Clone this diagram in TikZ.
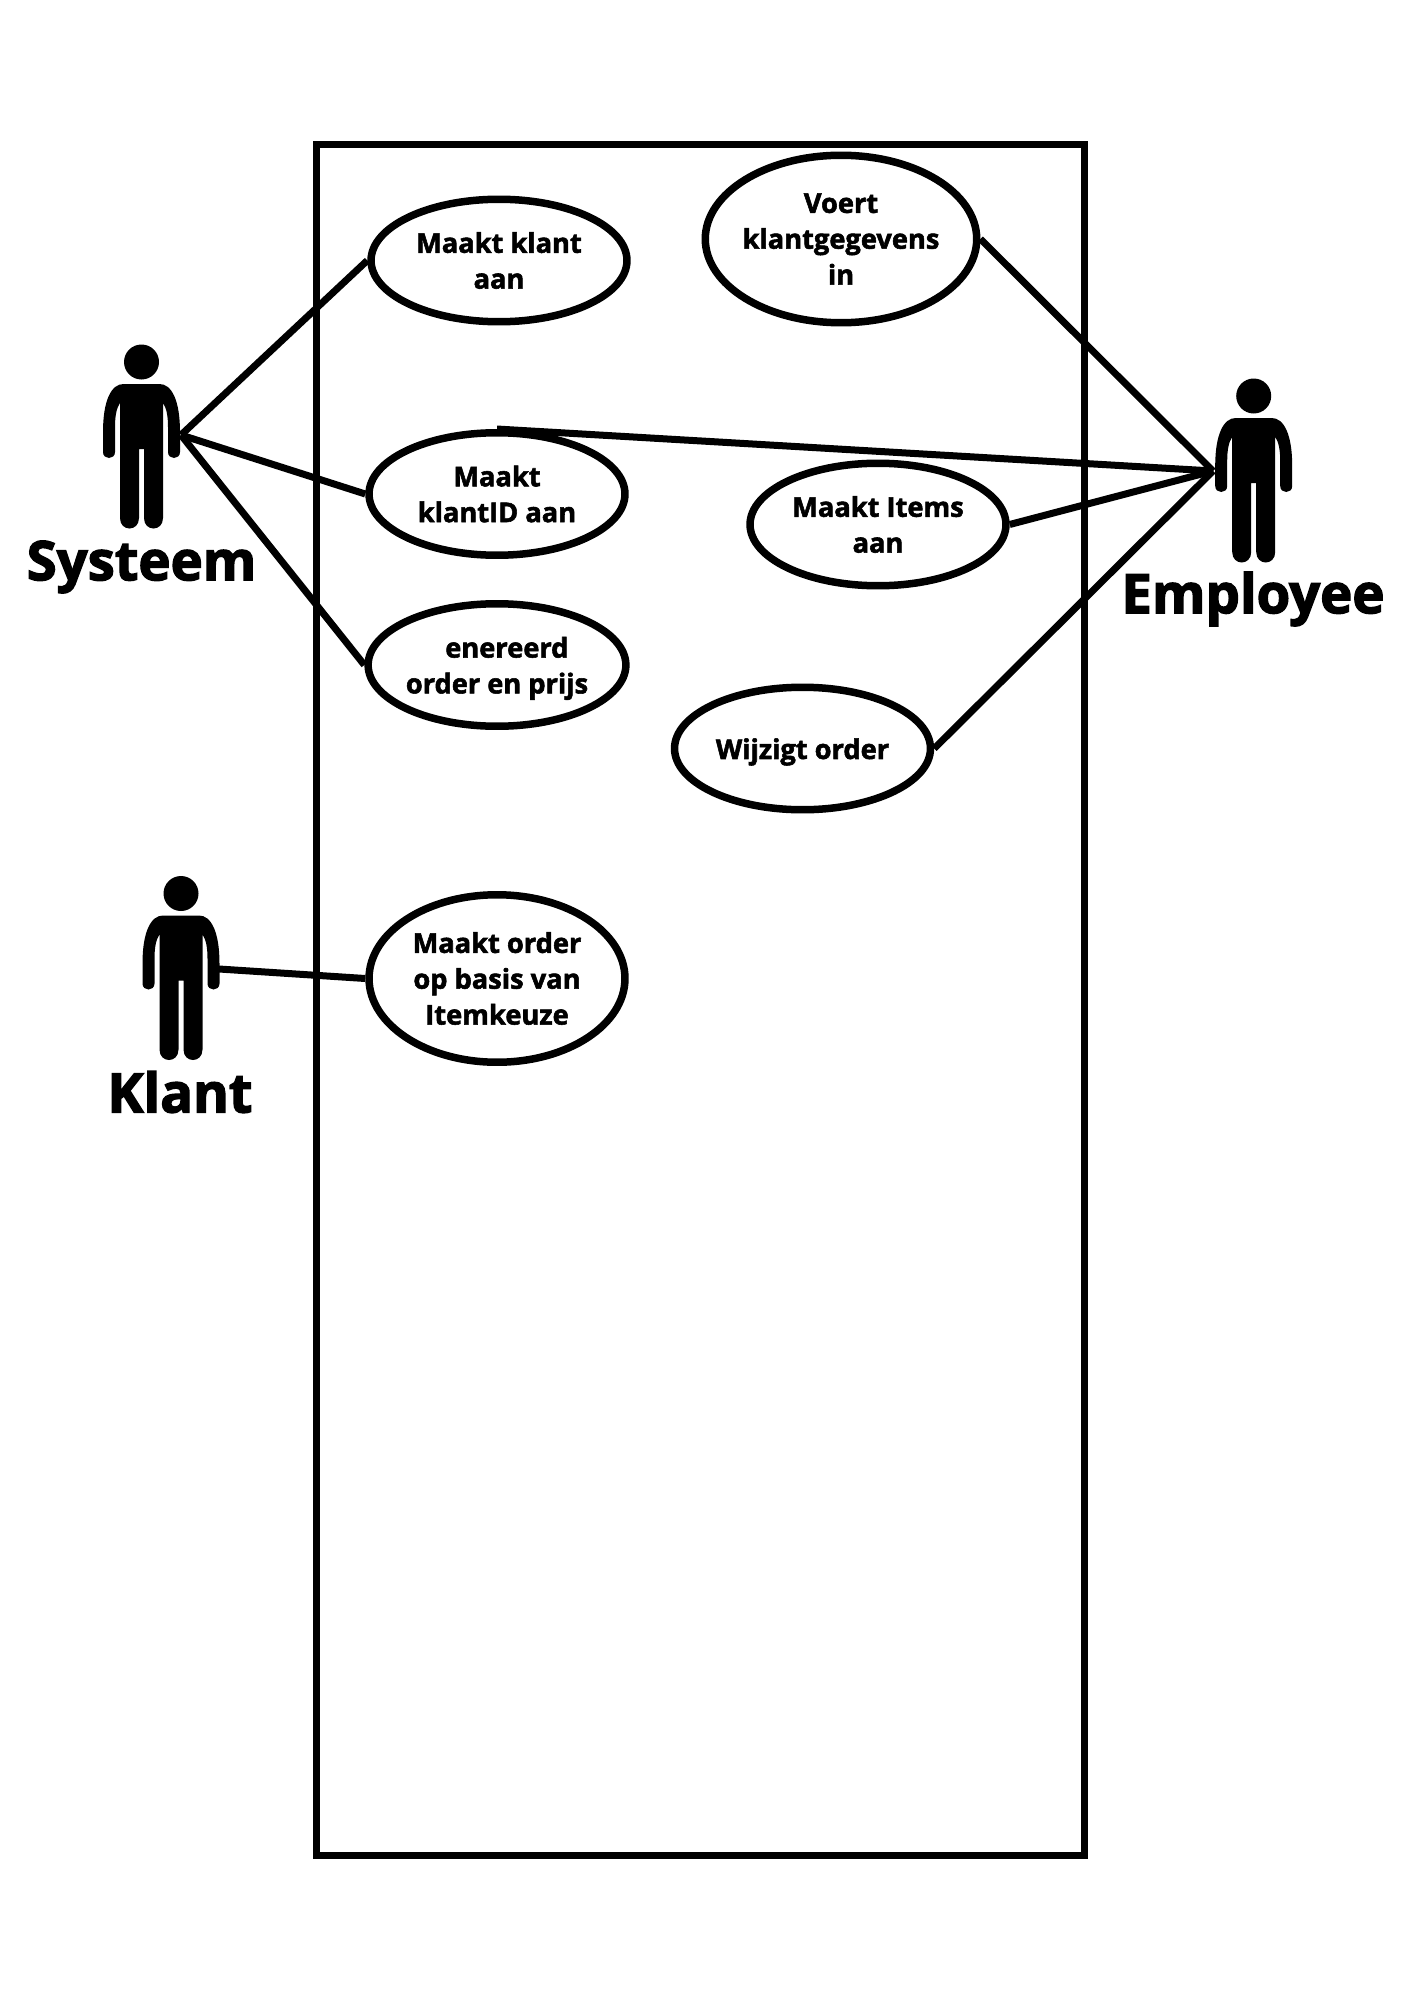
\documentclass[tikz,border=0pt]{standalone}
\usepackage{fontspec}
\setmainfont{Open Sans}[BoldFeatures={FakeBold=2}]
\newfontfamily\actorfont{Open Sans}[BoldFeatures={FakeBold=2.5}]
\usetikzlibrary{shapes.geometric}

\tikzset{
    usecase/.style={draw, ellipse, line width=7.5*0.02cm, fill=white, inner sep=0pt,
        minimum width=5.12cm, minimum height=2.45cm, align=center,
        font=\fontsize{15.5pt}{20.4pt}\selectfont\bfseries},
    usecasetall/.style={usecase, minimum height=3.35cm},
    actorname/.style={inner sep=0pt, font=\fontsize{31pt}{36pt}\actorfont\selectfont\bfseries},
    assoc/.style={line width=7*0.02cm},
    pics/actorfig/.style={code={
        \fill (0,0) circle (17.5);
        \fill (0,22) -- (18,22) .. controls (30,22) and (38.5,38) .. (38.5,70) -- (38.5,90)
            .. controls (38.5,98) and (26.5,98) .. (26.5,90) -- (26.5,65)
            .. controls (26.5,54) and (25,46) .. (21.5,41) -- (21.5,156)
            .. controls (21.5,170) and (2.5,170) .. (2.5,156) -- (2.5,87) -- (-2.5,87) -- (-2.5,156)
            .. controls (-2.5,170) and (-21.5,170) .. (-21.5,156) -- (-21.5,41)
            .. controls (-25,46) and (-26.5,54) .. (-26.5,65) -- (-26.5,90)
            .. controls (-26.5,98) and (-38.5,98) .. (-38.5,90) -- (-38.5,70)
            .. controls (-38.5,38) and (-30,22) .. (-18,22) -- cycle;
    }}
}

\begin{document}
\begin{tikzpicture}[x=0.02cm,y=-0.02cm]
    \useasboundingbox (0,0) rectangle (1414,2000);

    % System boundary
    \draw[assoc] (316.5,145) rectangle (1084,1855);

    % Actors
    \pic at (141.5,362) {actorfig};
    \pic at (1253.7,396) {actorfig};
    \pic at (181,893.5) {actorfig};
    \coordinate (systeemhand) at (181,435);
    \coordinate (employeehand) at (1213,471);
    \coordinate (klanthand) at (219,969);
    \node[actorname] (systeem) at (141.5,567) {Systeem};
    \node[actorname] (employee) at (1253,599) {Employee};
    \node[actorname] (klant) at (180,1092) {Klant};

    % Use cases
    \node[usecase] (maaktklant) at (499,260.5) {Maakt klant\\aan};
    \node[usecase] (maaktklantid) at (497,494) {Maakt\\klantID aan};
    \node[usecase] (genereerd) at (497,665) {\rule{0pt}{0.55cm}\phantom{G}enereerd\\order en prijs};
    \node[usecasetall, minimum width=5.43cm] (voert) at (841,239) {Voert\\\makebox[3cm]{klantgegevens}\\in};
    \node[usecase] (maaktitems) at (878,524.5) {Maakt Items\\aan};
    \node[usecase] (wijzigt) at (802.5,748.5) {\rule{0pt}{0.55cm}Wijzigt order};
    \node[usecasetall] (maaktorder) at (497,978.5) {Maakt order\\op basis van\\Itemkeuze};

    % Associations
    \draw[assoc] (systeemhand) -- (maaktklant.west);
    \draw[assoc] (systeemhand) -- (maaktklantid.west);
    \draw[assoc] (systeemhand) -- (genereerd.west);
    \draw[assoc] (klanthand) -- (maaktorder.west);
    \draw[assoc] (employeehand) -- (voert.east);
    \draw[assoc] (employeehand) -- (maaktklantid.north);
    \draw[assoc] (employeehand) -- (maaktitems.east);
    \draw[assoc] (employeehand) -- (wijzigt.east);
\end{tikzpicture}
\end{document}
